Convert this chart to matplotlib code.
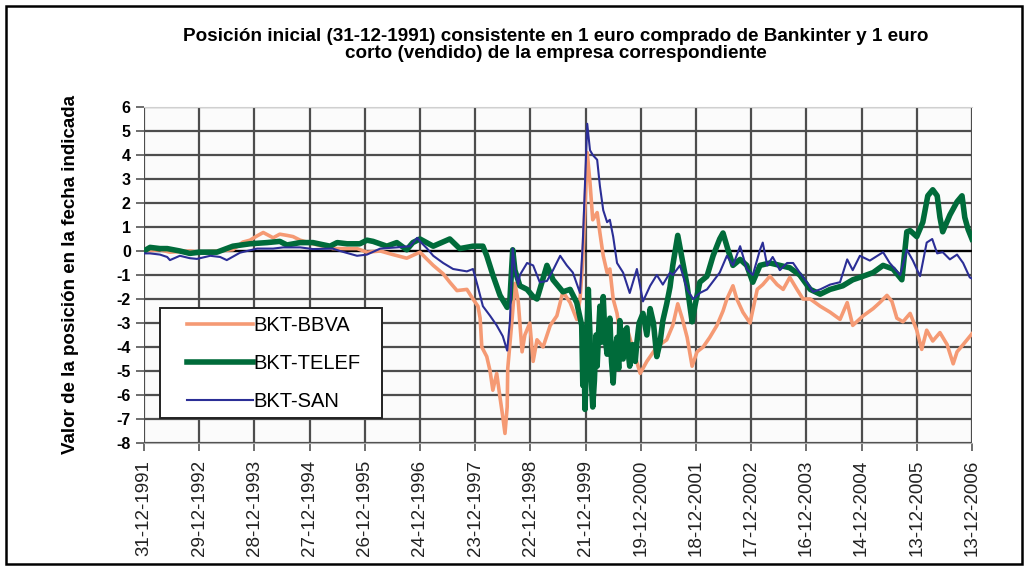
import matplotlib
matplotlib.use("Agg")
import matplotlib.pyplot as plt
from matplotlib.patches import Rectangle

plt.rcParams['font.family'] = ['Liberation Sans', 'DejaVu Sans']

title = ("Posición inicial (31-12-1991) consistente en 1 euro comprado de Bankinter y 1 euro\n"
         "corto (vendido) de la empresa correspondiente")
ylabel = "Valor de la posición en la fecha indicada"
tick_labels = ["31-12-1991", "29-12-1992", "28-12-1993", "27-12-1994", "26-12-1995",
               "24-12-1996", "23-12-1997", "22-12-1998", "21-12-1999", "19-12-2000",
               "18-12-2001", "17-12-2002", "16-12-2003", "14-12-2004", "13-12-2005",
               "13-12-2006"]
tick_pos = list(range(len(tick_labels)))  # years since 31-12-1991
yticks = list(range(-8, 7))

# time in years since 31-12-1991
t_bbva = [0.00, 0.29, 0.47, 0.83, 1.01, 1.32, 1.61, 1.79, 1.92, 2.05, 2.16, 2.34, 2.46, 2.59,
          2.70, 2.83, 3.06, 3.42, 3.68, 3.86, 4.04, 4.28, 4.51, 4.76, 4.95, 5.00, 5.13, 5.24,
          5.42, 5.54, 5.67, 5.85, 5.96, 6.05, 6.09, 6.12, 6.21, 6.27, 6.32, 6.39, 6.45, 6.50,
          6.54, 6.58, 6.59, 6.67, 6.72, 6.78, 6.85, 6.90, 6.99, 7.05, 7.12, 7.23, 7.36, 7.48,
          7.59, 7.72, 7.84, 7.90, 7.95, 8.03, 8.08, 8.13, 8.21, 8.26, 8.32, 8.39, 8.44, 8.50,
          8.57, 8.62, 8.75, 8.86, 8.99, 9.11, 9.29, 9.47, 9.58, 9.67, 9.75, 9.84, 9.93, 10.02,
          10.13, 10.25, 10.38, 10.49, 10.56, 10.67, 10.74, 10.85, 10.98, 11.11, 11.21, 11.34,
          11.47, 11.58, 11.70, 11.83, 11.94, 12.07, 12.25, 12.43, 12.61, 12.74, 12.84, 13.03,
          13.21, 13.33, 13.46, 13.55, 13.64, 13.75, 13.88, 14.00, 14.09, 14.18, 14.29, 14.42,
          14.55, 14.66, 14.73, 14.84, 15.00]
v_bbva = [0.0, 0.05, -0.05, 0.0, -0.05, 0.0, 0.05, 0.37, 0.45, 0.63, 0.77, 0.55, 0.7, 0.65,
          0.6, 0.45, 0.3, 0.1, 0.1, 0.1, -0.05, 0.0, -0.15, -0.3, -0.1, -0.05, -0.35, -0.6,
          -0.95, -1.3, -1.65, -1.6, -2.0, -2.3, -2.8, -4.0, -4.4, -5.0, -5.8, -5.1, -6.1, -6.9,
          -7.6, -6.5, -4.9, -2.8, -1.35, -2.1, -4.2, -3.5, -3.0, -4.6, -3.7, -4.0, -3.1, -2.7,
          -1.7, -2.15, -2.85, -2.0, -0.35, 4.1, 2.85, 1.3, 1.6, 0.75, -0.2, -0.9, -0.75, -2.0,
          -2.6, -3.4, -3.2, -4.1, -5.1, -4.6, -4.0, -3.7, -3.1, -2.2, -2.8, -3.6, -4.8, -4.2,
          -4.0, -3.6, -3.1, -2.5, -2.0, -1.45, -2.0, -2.55, -3.0, -1.6, -1.4, -1.05,
          -1.4, -1.6, -1.1, -1.6, -2.0, -2.0, -2.3, -2.55, -2.85, -2.15, -3.1, -2.7,
          -2.4, -2.15, -1.85, -2.1, -2.8, -2.95, -2.6, -3.3, -4.1, -3.3, -3.75, -3.4,
          -3.9, -4.7, -4.2, -3.9, -3.45]

t_telef = [0.00, 0.11, 0.29, 0.42, 0.65, 0.83, 1.01, 1.32, 1.61, 1.92, 2.23, 2.46, 2.59, 2.83,
           3.06, 3.37, 3.50, 3.68, 3.91, 4.04, 4.15, 4.40, 4.58, 4.76, 4.87, 5.00, 5.24, 5.54,
           5.72, 5.96, 6.14, 6.21, 6.32, 6.45, 6.58, 6.63, 6.68, 6.72, 6.81, 6.94, 7.05, 7.12,
           7.30, 7.41, 7.59, 7.72, 7.84, 7.93, 7.95, 7.97, 7.99, 8.01, 8.03, 8.05, 8.08, 8.10,
           8.13, 8.16, 8.19, 8.21, 8.24, 8.26, 8.29, 8.32, 8.35, 8.39, 8.42, 8.44, 8.47, 8.50,
           8.53, 8.57, 8.60, 8.62, 8.65, 8.68, 8.72, 8.75, 8.78, 8.80, 8.85, 8.90, 8.93, 8.97,
           9.04, 9.11, 9.17, 9.23,
           9.29, 9.35, 9.40, 9.47, 9.53, 9.58, 9.67, 9.75, 9.84, 9.93, 9.98, 10.07, 10.20,
           10.31, 10.43, 10.49, 10.58, 10.67, 10.80, 10.92, 11.03, 11.16, 11.34, 11.52, 11.70,
           11.88, 12.07, 12.25, 12.43, 12.66, 12.84, 13.03, 13.21, 13.39, 13.57, 13.73, 13.82,
           13.88, 14.00, 14.11, 14.20, 14.29, 14.37, 14.42, 14.47, 14.60, 14.73, 14.82, 14.87,
           14.93, 15.00]
v_telef = [0.0, 0.15, 0.1, 0.1, 0.0, -0.1, -0.05, -0.05, 0.2, 0.3, 0.35, 0.4, 0.25, 0.35,
           0.35, 0.2, 0.35, 0.3, 0.3, 0.45, 0.4, 0.2, 0.35, 0.05, 0.35, 0.5, 0.2, 0.5,
           0.1, 0.2, 0.2, -0.2, -1.0, -1.85, -2.35, -2.0, 0.05, -0.8, -1.45, -1.6, -1.9, -2.0,
           -0.6, -1.2, -1.7, -1.6, -2.15, -3.1, -5.6, -4.2, -6.6, -5.0, -3.0, -1.6, -3.5, -5.2,
           -6.5, -5.4, -3.5, -4.8, -3.2, -2.3, -3.8, -1.9, -3.5, -4.3, -3.1, -2.8, -4.6, -5.5,
           -4.2, -3.6, -4.9, -2.9, -3.9, -4.5, -3.3, -3.2, -4.4, -4.8, -3.9, -4.6, -3.8, -3.0,
           -2.6, -3.5, -2.4, -3.0,
           -4.4, -3.8, -2.9, -2.2, -1.5, -0.6, 0.65, -0.35, -1.45, -2.95, -2.3, -1.3, -1.05,
           -0.2, 0.5, 0.75, 0.05, -0.6, -0.35, -0.6, -1.3, -0.6, -0.5, -0.6, -0.7,
           -1.0, -1.6, -1.8, -1.6, -1.45, -1.2, -1.05, -0.9, -0.6, -0.75, -1.2, 0.8,
           0.85, 0.6, 1.2, 2.3, 2.55, 2.3, 1.4, 0.8, 1.5, 2.05, 2.3, 1.4,
           0.9, 0.5]

t_san = [0.00, 0.11, 0.29, 0.42, 0.47, 0.65, 0.83, 0.96, 1.20, 1.38, 1.50, 1.74, 2.05, 2.34,
         2.52, 2.83, 3.06, 3.42, 3.55, 3.86, 4.04, 4.28, 4.58, 4.82, 4.95, 5.00, 5.13, 5.24,
         5.42, 5.60, 5.85, 5.96, 6.05, 6.14, 6.27, 6.39, 6.50, 6.58, 6.63, 6.68, 6.72, 6.78,
         6.81, 6.94, 7.05, 7.17, 7.30, 7.41, 7.54, 7.66, 7.77, 7.90, 7.95, 8.03, 8.08, 8.13,
         8.21, 8.26, 8.32, 8.39, 8.44, 8.50, 8.57, 8.68, 8.80, 8.93, 9.04, 9.17, 9.29, 9.40,
         9.53, 9.58, 9.71, 9.84, 9.95, 10.07, 10.20, 10.43, 10.56, 10.67, 10.80, 10.92, 11.03,
         11.16, 11.21, 11.29, 11.39, 11.52, 11.65, 11.76, 11.88, 12.01, 12.12, 12.25, 12.43,
         12.61, 12.74, 12.84, 12.97, 13.15, 13.39, 13.51, 13.70, 13.82, 13.93, 14.06, 14.18,
         14.28, 14.37, 14.47, 14.60, 14.73, 14.84, 14.96, 15.00]
v_san = [-0.1, -0.1, -0.15, -0.25, -0.38, -0.2, -0.3, -0.33, -0.2, -0.25, -0.38, -0.07, 0.1, 0.1,
         0.15, 0.15, 0.08, 0.1, 0.0, -0.2, -0.15, 0.1, 0.15, 0.2, 0.55, 0.4, 0.1, -0.2,
         -0.5, -0.75, -0.85, -0.75, -1.5, -2.3, -2.7, -3.1, -3.55, -4.15, -2.9, 0.1, -0.75, -1.4,
         -1.0, -0.5, -0.6, -1.3, -1.25, -0.8, -0.2, -0.6, -0.9, -1.75, 0.35, 5.3, 4.2, 4.0,
         3.8, 2.7, 1.7, 1.2, 1.3, 0.6, -0.5, -0.9, -1.75, -0.75, -2.1, -1.45, -1.0, -1.4,
         -0.9, -1.0, -0.6, -1.6, -2.0, -1.75, -1.6, -0.9, -0.2, -0.6, 0.2, -0.75, -1.0,
         0.05, 0.35, -0.6, -0.25, -0.8, -0.5, -0.5, -0.9, -1.3, -1.7, -1.6, -1.4,
         -1.3, -0.35, -0.8, -0.2, -0.4, -0.05, -0.5, -1.0, 0.05, -0.4, -1.05, 0.35,
         0.5, -0.1, -0.05, -0.35, -0.15, -0.5, -1.1, -1.15]

series_names = ["BKT-BBVA", "BKT-TELEF", "BKT-SAN"]

fig = plt.figure(figsize=(10.27, 5.66), dpi=100)
fig.patch.set_facecolor('white')
fig.add_artist(Rectangle((0.006, 0.004), 0.989, 0.986, transform=fig.transFigure,
                         fill=False, edgecolor='black', linewidth=1.8))

ax = fig.add_axes([0.1402, 0.2173, 0.8062, 0.5937])
ax.set_facecolor('#fbfbfb')
ax.set_xlim(0, 15)
ax.set_ylim(-8, 6)

ax.grid(True, color='#4d4d4d', linewidth=1.6)
ax.set_axisbelow(True)
ax.axhline(0, color='black', linewidth=1.6, zorder=1.5)

ax.plot(t_bbva, v_bbva, color='#f59a74', linewidth=2.6, label=series_names[0], zorder=3)
ax.plot(t_telef, v_telef, color='#006b3a', linewidth=4.0, label=series_names[1], zorder=4)
ax.plot(t_san, v_san, color='#2b2e96', linewidth=1.5, label=series_names[2], zorder=5)

ax.set_xticks(tick_pos)
ax.set_xticklabels(tick_labels, rotation=90, fontsize=13.5, color='#222222')
ax.set_yticks(yticks)
ax.set_yticklabels([str(v) for v in yticks], fontsize=11.5, fontweight='bold')
ax.tick_params(axis='both', length=6, width=1.2, color='#555555')
ax.tick_params(axis='x', pad=6)

for s in ['left', 'right']:
    ax.spines[s].set_visible(False)
ax.spines['top'].set_color('#d0d0d0')
ax.spines['bottom'].set_color('#aaaaaa')

ax.set_ylabel(ylabel, fontsize=13.5, fontweight='bold', labelpad=27)

fig.text(0.541, 0.921, title, ha='center', va='center', fontsize=13.6,
         fontweight='bold', linespacing=1.0)

# legend box
ax.add_patch(Rectangle((0.0193, 0.0744), 0.268, 0.327, transform=ax.transAxes,
                       facecolor='white', edgecolor='#222222', linewidth=1.4, zorder=9))
leg = ax.legend(loc='upper left', bbox_to_anchor=(0.052, 0.377), fontsize=14.5,
                handlelength=3.3, handletextpad=0.0, labelspacing=0.93,
                borderpad=0, borderaxespad=0, frameon=False)
leg.set_zorder(10)

fig.savefig("out.png", dpi=100, facecolor='white')
